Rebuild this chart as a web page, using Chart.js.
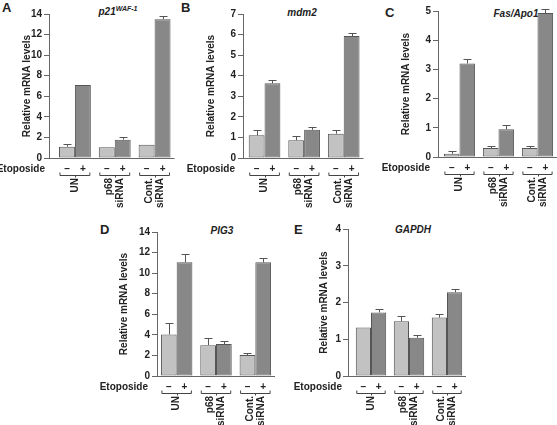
<!DOCTYPE html>
<html>
<head>
<meta charset="utf-8">
<script src="https://cdn.jsdelivr.net/npm/chart.js@4.4.1/dist/chart.umd.min.js"></script>
<style>
    body { margin: 0; background: #fff; }
    #fig { position: relative; width: 557px; height: 425px; overflow: hidden; font-family: 'Liberation Sans', Arial, sans-serif; color: #222; }
    #fig canvas { position: absolute; }
    .letter { position: absolute; font-weight: bold; font-size: 13px; line-height: 1; }
    .gene { position: absolute; font-weight: bold; font-style: italic; font-size: 10px; line-height: 1; transform: translate(-50%, -50%); white-space: nowrap; }
    .gene sup { font-size: 7px; vertical-align: 4px; line-height: 0; }
</style>
</head>
<body>
<div id="fig">
    <div class="letter" style="left:2px;top:1px">A</div>
    <div class="letter" style="left:181px;top:1px">B</div>
    <div class="letter" style="left:385px;top:6px">C</div>
    <div class="letter" style="left:100px;top:223px">D</div>
    <div class="letter" style="left:294px;top:223px">E</div>
    <div class="gene" style="left:118px;top:12px">p21<sup>WAF-1</sup></div>
    <div class="gene" style="left:302px;top:13px">mdm2</div>
    <div class="gene" style="left:516px;top:14px">Fas/Apo1</div>
    <div class="gene" style="left:222px;top:231px">PIG3</div>
    <div class="gene" style="left:413px;top:230px">GAPDH</div>
</div>
<script>
// data
const categories = ['UN', ['p68', 'siRNA'], ['Cont.', 'siRNA']]
const treatments = ['–', '+']

const p21Minus = [1.1, 1.05, 1.3]
const p21Plus = [7.1, 1.78, 13.5]
const p21MinusErr = [0.25, 0, 0]
const p21PlusErr = [0, 0.3, 0.3]
const p21Ticks = [0, 2, 4, 6, 8, 10, 12, 14]

const mdm2Minus = [1.1, 0.86, 1.18]
const mdm2Plus = [3.63, 1.37, 5.93]
const mdm2MinusErr = [0.24, 0.19, 0.16]
const mdm2PlusErr = [0.17, 0.13, 0.17]
const mdm2Ticks = [0, 1, 2, 3, 4, 5, 6, 7]

const fasMinus = [0.11, 0.31, 0.31]
const fasPlus = [3.2, 0.95, 4.93]
const fasMinusErr = [0.08, 0.06, 0.06]
const fasPlusErr = [0.17, 0.13, 0.13]
const fasTicks = [0, 1, 2, 3, 4, 5]

const pig3Minus = [4.04, 3.0, 2.04]
const pig3Plus = [11.07, 3.1, 11.05]
const pig3MinusErr = [1.07, 0.65, 0.22]
const pig3PlusErr = [0.8, 0.3, 0.45]
const pig3Ticks = [0, 2, 4, 6, 8, 10, 12, 14]

const gapdhMinus = [1.32, 1.49, 1.59]
const gapdhPlus = [1.73, 1.04, 2.28]
const gapdhMinusErr = [0, 0.14, 0.09]
const gapdhPlusErr = [0.09, 0.07, 0.08]
const gapdhTicks = [0, 1, 2, 3, 4]

// panel placement (pixels)
const panels = [
    { minus: p21Minus, plus: p21Plus, minusErr: p21MinusErr, plusErr: p21PlusErr, ticks: p21Ticks,
      box: [0, 0, 180, 212], titleX: 28, axisX: 49, left: 55, right: 174.5, top: 14, bottom: 158, etoX: 45 },
    { minus: mdm2Minus, plus: mdm2Plus, minusErr: mdm2MinusErr, plusErr: mdm2PlusErr, ticks: mdm2Ticks,
      box: [180, 0, 187, 212], titleX: 211.5, axisX: 243, left: 244.75, right: 363.5, top: 14, bottom: 158, etoX: 235 },
    { minus: fasMinus, plus: fasPlus, minusErr: fasMinusErr, plusErr: fasPlusErr, ticks: fasTicks,
      box: [360, 0, 197, 212], titleX: 406.5, axisX: 438, left: 440, right: 557, top: 11, bottom: 157, etoX: 430 },
    { minus: pig3Minus, plus: pig3Plus, minusErr: pig3MinusErr, plusErr: pig3PlusErr, ticks: pig3Ticks,
      box: [60, 200, 220, 225], titleX: 125, axisX: 157, left: 157, right: 275, top: 232, bottom: 376, etoX: 148 },
    { minus: gapdhMinus, plus: gapdhPlus, minusErr: gapdhMinusErr, plusErr: gapdhPlusErr, ticks: gapdhTicks,
      box: [260, 200, 215, 225], titleX: 325, axisX: 348, left: 352, right: 466, top: 229, bottom: 376, etoX: 342 }
]

const FONT = { family: "'Liberation Sans', Arial, sans-serif", size: 10, weight: 'bold' }
const AXIS_COLOR = '#666'

const decorPlugin = {
    id: 'decor',
    afterDatasetsDraw(chart, args, opts) {
        const { ctx, chartArea } = chart
        const x = chart.scales.x
        const y = chart.scales.y
        const y0 = y.getPixelForValue(0)
        ctx.save()

        // error bars (upper half only)
        ctx.strokeStyle = '#555'
        ctx.lineWidth = 1
        chart.data.datasets.forEach((ds, i) => {
            chart.getDatasetMeta(i).data.forEach((bar, j) => {
                const err = ds.errors[j]
                if (!err) return
                const top = Math.round(y.getPixelForValue(ds.data[j] + err)) + 0.5
                const bx = Math.round(bar.x) + 0.5
                ctx.beginPath()
                ctx.moveTo(bx, bar.y)
                ctx.lineTo(bx, top)
                ctx.moveTo(bx - 4, top)
                ctx.lineTo(bx + 4, top)
                ctx.stroke()
            })
        })

        // baseline
        ctx.strokeStyle = AXIS_COLOR
        ctx.beginPath()
        ctx.moveTo(y.right, Math.round(y0) + 0.5)
        ctx.lineTo(chartArea.right, Math.round(y0) + 0.5)
        ctx.stroke()

        // – / + row, brackets, Etoposide
        ctx.fillStyle = '#222'
        ctx.font = `bold ${FONT.size}px ${FONT.family}`
        ctx.textBaseline = 'middle'
        ctx.textAlign = 'center'
        const rowY = chartArea.bottom + 11
        chart.data.datasets.forEach((ds, i) => {
            chart.getDatasetMeta(i).data.forEach((bar) => {
                ctx.fillText(treatments[i], bar.x, rowY)
            })
        })
        const m0 = chart.getDatasetMeta(0).data
        const m1 = chart.getDatasetMeta(1).data
        const by = chartArea.bottom + 17.5
        ctx.strokeStyle = '#444'
        m0.forEach((bar, j) => {
            const l = bar.x - bar.width / 2 + 1
            const r = m1[j].x + m1[j].width / 2 - 1
            const c = Math.round((l + r) / 2) + 0.5
            ctx.beginPath()
            ctx.moveTo(l, by - 3)
            ctx.lineTo(l, by)
            ctx.lineTo(r, by)
            ctx.lineTo(r, by - 3)
            ctx.moveTo(c, by)
            ctx.lineTo(c, by + 2)
            ctx.stroke()
        })
        ctx.textAlign = 'right'
        ctx.fillText('Etoposide', opts.etoX, rowY)

        // group labels, rotated, reading upwards
        const lh = 11
        chart.data.labels.forEach((label, j) => {
            const lines = Array.isArray(label) ? label : [label]
            const cx = x.getPixelForValue(j)
            ctx.save()
            ctx.translate(cx, chartArea.bottom + 20)
            ctx.rotate(-Math.PI / 2)
            ctx.textAlign = 'right'
            lines.forEach((line, k) => {
                ctx.fillText(line, 0, (k - (lines.length - 1) / 2) * lh)
            })
            ctx.restore()
        })
        ctx.restore()
    }
}

panels.forEach((p) => {
    const [bx, by, bw, bh] = p.box
    const canvas = document.createElement('canvas')
    canvas.width = bw
    canvas.height = bh
    canvas.style.left = bx + 'px'
    canvas.style.top = by + 'px'
    document.getElementById('fig').appendChild(canvas)

    const yLeft = p.titleX - 6.5
    const yWidth = p.axisX - yLeft
    const padWidth = p.left - p.axisX

    new Chart(canvas, {
        type: 'bar',
        data: {
            labels: categories,
            datasets: [
                { label: 'Etoposide –', data: p.minus, errors: p.minusErr, backgroundColor: '#c2c2c2' },
                { label: 'Etoposide +', data: p.plus, errors: p.plusErr, backgroundColor: '#888888' }
            ]
        },
        options: {
            responsive: false,
            animation: false,
            events: [],
            layout: {
                padding: { left: yLeft - bx, right: bx + bw - p.right, top: p.top - by, bottom: 0 }
            },
            datasets: {
                bar: {
                    categoryPercentage: 0.8,
                    barPercentage: 1,
                    borderWidth: 1,
                    borderColor: '#555',
                    borderSkipped: false
                }
            },
            scales: {
                x: {
                    grid: { display: false, drawTicks: false },
                    border: { display: false },
                    ticks: { display: false },
                    afterFit: (s) => { s.height = by + bh - p.bottom }
                },
                y: {
                    weight: 1,
                    min: p.ticks[0],
                    max: p.ticks[p.ticks.length - 1],
                    afterBuildTicks: (s) => { s.ticks = p.ticks.map((v) => ({ value: v })) },
                    grid: { drawOnChartArea: false, drawTicks: true, tickLength: 5, color: AXIS_COLOR },
                    border: { display: true, color: AXIS_COLOR },
                    ticks: { color: '#222', font: FONT, padding: 2 },
                    title: {
                        display: true,
                        text: 'Relative mRNA levels',
                        color: '#222',
                        font: FONT,
                        padding: 0
                    },
                    afterFit: (s) => { s.width = yWidth }
                },
                pad: {
                    type: 'linear',
                    position: 'left',
                    weight: 0,
                    display: true,
                    grid: { display: false, drawTicks: false },
                    border: { display: false },
                    ticks: { display: false },
                    afterFit: (s) => { s.width = padWidth }
                }
            },
            plugins: {
                legend: { display: false },
                tooltip: { enabled: false },
                decor: { etoX: p.etoX - bx }
            }
        },
        plugins: [decorPlugin]
    })
})
</script>
</body>
</html>
